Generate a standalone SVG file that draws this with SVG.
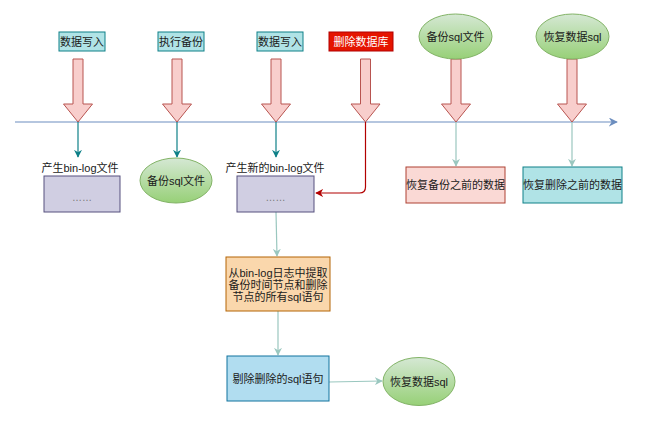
<svg xmlns="http://www.w3.org/2000/svg" width="652" height="426" viewBox="0 0 652 426">
<style>
text{font-family:"Liberation Sans","Noto Sans CJK SC",sans-serif;font-size:11px;fill:#1a1a1a;text-anchor:middle;dominant-baseline:central}
.lbl{fill:#b0e3e6;stroke:#0e8088;stroke-width:1}
.red{fill:#e51400;stroke:#b20000;stroke-width:1}
.big{fill:#f8cecc;stroke:#b85450;stroke-width:1}
.ell{fill:url(#g);stroke:#82b366;stroke-width:1}
.log{fill:#d0cee2;stroke:#56517e;stroke-width:1}
.dk{stroke:#0e8088;stroke-width:1.2;fill:none}
.lt{stroke:#9ac7bf;stroke-width:1.2;fill:none}
</style>
<defs>
<linearGradient id="g" x1="0" y1="0" x2="0" y2="1"><stop offset="0" stop-color="#d5e8d4"/><stop offset="1" stop-color="#97d077"/></linearGradient>
<marker id="ad" viewBox="0 0 10 10" refX="9" refY="5" markerWidth="8" markerHeight="8" orient="auto" markerUnits="userSpaceOnUse"><path d="M0,0 L10,5 L0,10 L3,5 Z" fill="#0e8088"/></marker>
<marker id="al" viewBox="0 0 10 10" refX="9" refY="5" markerWidth="8" markerHeight="8" orient="auto" markerUnits="userSpaceOnUse"><path d="M0,0 L10,5 L0,10 L3,5 Z" fill="#9ac7bf"/></marker>
<marker id="ar" viewBox="0 0 10 10" refX="9" refY="5" markerWidth="8" markerHeight="8" orient="auto" markerUnits="userSpaceOnUse"><path d="M0,0 L10,5 L0,10 L3,5 Z" fill="#b20000"/></marker>
<marker id="ab" viewBox="0 0 10 10" refX="9" refY="5" markerWidth="9" markerHeight="9" orient="auto" markerUnits="userSpaceOnUse"><path d="M0,0 L10,5 L0,10 L3,5 Z" fill="#6c8ebf"/></marker>
</defs>
<rect width="652" height="426" fill="#ffffff"/>
<g id="connectors">
<line x1="15" y1="122" x2="617" y2="122" stroke="#6c8ebf" stroke-width="1.2" marker-end="url(#ab)"/>
<line class="dk" x1="78" y1="122" x2="78" y2="157" marker-end="url(#ad)"/>
<line class="dk" x1="177" y1="122" x2="177" y2="157" marker-end="url(#ad)"/>
<line class="dk" x1="276" y1="122" x2="276" y2="157" marker-end="url(#ad)"/>
<path d="M365.5,122 V187 Q365.5,193 359.5,193 H316" stroke="#b20000" stroke-width="1.2" fill="none" marker-end="url(#ar)"/>
<line class="lt" x1="456" y1="122" x2="456" y2="166" marker-end="url(#al)"/>
<line class="lt" x1="572" y1="122" x2="572" y2="166" marker-end="url(#al)"/>
<line class="lt" x1="276" y1="212" x2="277" y2="256" marker-end="url(#al)"/>
<line class="lt" x1="278" y1="311" x2="278" y2="355" marker-end="url(#al)"/>
<line class="lt" x1="329" y1="382" x2="382" y2="381" marker-end="url(#al)"/>
</g>
<g id="arrow1"><path class="big" d="M73,59 H83 V104 H92.5 L78,122 L63.5,104 H73 Z"/></g>
<g id="arrow2"><path class="big" d="M172,59 H182 V104 H191.5 L177,122 L162.5,104 H172 Z"/></g>
<g id="arrow3"><path class="big" d="M271,59 H281 V104 H290.5 L276,122 L261.5,104 H271 Z"/></g>
<g id="arrow4"><path class="big" d="M360.5,59 H370.5 V104 H380 L365.5,122 L351,104 H360.5 Z"/></g>
<g id="arrow5"><path class="big" d="M451,59 H461 V104 H470.5 L456,122 L441.5,104 H451 Z"/></g>
<g id="arrow6"><path class="big" d="M567,59 H577 V104 H586.5 L572,122 L557.5,104 H567 Z"/></g>
<g id="n-write1"><rect class="lbl" x="59" y="32" width="46" height="19"/><text x="82" y="42">数据写入</text></g>
<g id="n-backup"><rect class="lbl" x="158" y="32" width="46" height="19"/><text x="181" y="42">执行备份</text></g>
<g id="n-write2"><rect class="lbl" x="257" y="32" width="46" height="19"/><text x="280" y="42">数据写入</text></g>
<g id="n-drop"><rect class="red" x="329" y="32" width="64" height="19"/><text x="361" y="42" style="fill:#ffffff">删除数据库</text></g>
<g id="n-bkfile-top"><ellipse class="ell" cx="455.5" cy="36.5" rx="36.5" ry="22.5"/><text x="455.5" y="37">备份sql文件</text></g>
<g id="n-restore-top"><ellipse class="ell" cx="572.5" cy="36.5" rx="36.5" ry="22.5"/><text x="572.5" y="37">恢复数据sql</text></g>
<g id="n-binlog1"><text x="80" y="168">产生bin-log文件</text><rect class="log" x="44" y="176" width="76" height="36"/><text x="82" y="197" style="fill:#777777;font-size:10px">……</text></g>
<g id="n-bkfile"><ellipse class="ell" cx="176" cy="180.5" rx="36" ry="22.5"/><text x="176" y="181">备份sql文件</text></g>
<g id="n-binlog2"><text x="275" y="168">产生新的bin-log文件</text><rect class="log" x="237" y="176" width="77" height="36"/><text x="275.5" y="197" style="fill:#777777;font-size:10px">……</text></g>
<g id="n-restore-bk"><rect x="406" y="167" width="99" height="36" fill="#fad9d5" stroke="#ae4132"/><text x="455.5" y="185">恢复备份之前的数据</text></g>
<g id="n-restore-del"><rect x="523" y="167" width="99" height="36" fill="#b0e3e6" stroke="#0e8088"/><text x="572.5" y="185">恢复删除之前的数据</text></g>
<g id="n-extract"><rect x="226" y="257" width="104" height="54" fill="#fad7ac" stroke="#b46504"/><text x="278" y="273">从bin-log日志中提取</text><text x="278" y="285">备份时间节点和删除</text><text x="278" y="297">节点的所有sql语句</text></g>
<g id="n-remove"><rect x="227" y="356" width="102" height="45" fill="#b1ddf0" stroke="#10739e"/><text x="278" y="379">剔除删除的sql语句</text></g>
<g id="n-restore"><ellipse class="ell" cx="419" cy="381.5" rx="36" ry="24"/><text x="419" y="382">恢复数据sql</text></g>
</svg>
